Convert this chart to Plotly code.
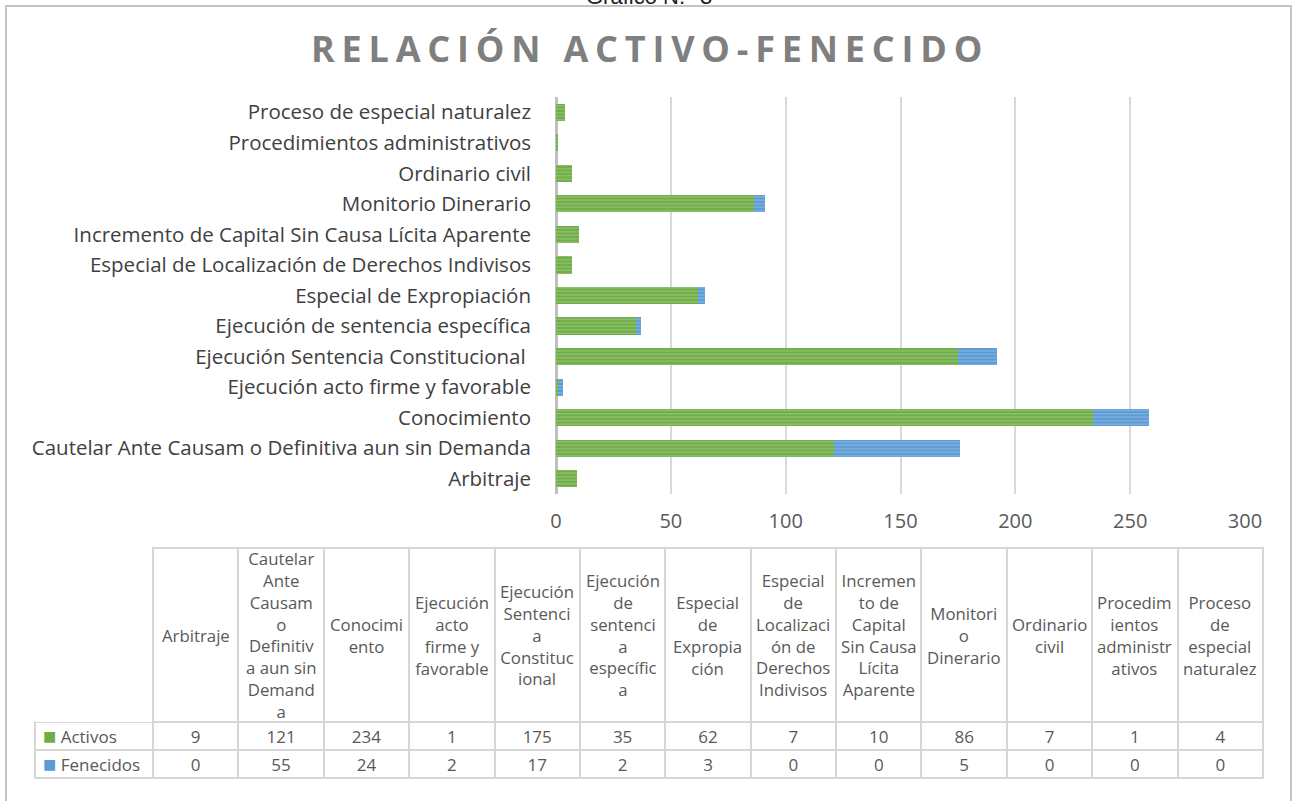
import plotly.graph_objects as go

# ---------------- data ----------------
categories = [
    "Arbitraje",
    "Cautelar Ante Causam o Definitiva aun sin Demanda",
    "Conocimiento",
    "Ejecución acto firme y favorable",
    "Ejecución Sentencia Constitucional ",
    "Ejecución de sentencia específica",
    "Especial de Expropiación",
    "Especial de Localización de Derechos Indivisos",
    "Incremento de Capital Sin Causa Lícita Aparente",
    "Monitorio Dinerario",
    "Ordinario civil",
    "Procedimientos administrativos",
    "Proceso de especial naturalez",
]
activos = [9, 121, 234, 1, 175, 35, 62, 7, 10, 86, 7, 1, 4]
fenecidos = [0, 55, 24, 2, 17, 2, 3, 0, 0, 5, 0, 0, 0]
series_names = ["Activos", "Fenecidos"]

# table header labels as wrapped in the original
header_lines = [
    ["Arbitraje"],
    ["Cautelar", "Ante", "Causam", "o", "Definitiv", "a aun sin", "Demand", "a"],
    ["Conocimi", "ento"],
    ["Ejecución", "acto", "firme y", "favorable"],
    ["Ejecución", "Sentenci", "a", "Constituc", "ional"],
    ["Ejecución", "de", "sentenci", "a", "específic", "a"],
    ["Especial", "de", "Expropia", "ción"],
    ["Especial", "de", "Localizaci", "ón de", "Derechos", "Indivisos"],
    ["Incremen", "to de", "Capital", "Sin Causa", "Lícita", "Aparente"],
    ["Monitori", "o", "Dinerario"],
    ["Ordinario", "civil"],
    ["Procedim", "ientos", "administr", "ativos"],
    ["Proceso", "de", "especial", "naturalez"],
]
x_ticks = [0, 50, 100, 150, 200, 250, 300]

title_text = "RELACIÓN ACTIVO-FENECIDO"
top_caption = "Gráfico N.° 3"

# ---------------- styling ----------------
W, H = 1298, 801
GREEN, GREEN_L = "#70ad47", "#a9d18e"
BLUE, BLUE_L = "#5b9bd5", "#9dc3e6"
FONT = "Open Sans"
TXT = "#595959"


def px_x(p):
    return p / W


def px_y(p):
    return 1 - p / H


fig = go.Figure()

fig.add_trace(go.Bar(
    y=categories, x=activos, name=series_names[0], orientation="h",
    marker=dict(color=GREEN, line=dict(width=0),
                pattern=dict(shape="-", size=3.5, solidity=0.45,
                             fgcolor=GREEN_L, bgcolor=GREEN)),
))
fig.add_trace(go.Bar(
    y=categories, x=fenecidos, name=series_names[1], orientation="h",
    marker=dict(color=BLUE, line=dict(width=0),
                pattern=dict(shape="-", size=3.5, solidity=0.45,
                             fgcolor=BLUE_L, bgcolor=BLUE)),
))

# ---------------- data table ----------------
NB = "\u00a0"
legend_cells = [NB * 4 + s for s in series_names]
cell_values = [legend_cells] + [[a, f] for a, f in zip(activos, fenecidos)]
colw = [118] + [85.4] * len(categories)
LINE = "#d6d6d6"

TBL_L, TBL_R, TBL_T, TBL_B = 35, 1263, 548, 779
HDR_H, ROW_H = 174, 28
tbl_x = [px_x(TBL_L), px_x(TBL_R)]
tbl_y = [px_y(TBL_B), px_y(TBL_T)]

fig.add_trace(go.Table(
    domain=dict(x=tbl_x, y=tbl_y),
    columnwidth=colw,
    header=dict(
        values=[""] * len(colw), height=HDR_H,
        fill=dict(color="white"),
        line=dict(color=["rgba(0,0,0,0)"] + [LINE] * len(categories), width=2),
    ),
    cells=dict(
        values=cell_values, height=ROW_H,
        align=["left"] + ["center"] * len(categories),
        fill=dict(color="white"),
        line=dict(color=LINE, width=2),
        font=dict(family=FONT, size=17, color=TXT),
    ),
))

# header labels, centred in each header cell
annotations = []
scale = (TBL_R - TBL_L) / sum(colw)
left = TBL_L + colw[0] * scale
for lines, w in zip(header_lines, colw[1:]):
    cx = left + w * scale / 2
    annotations.append(dict(
        text="<br>".join(lines), xref="paper", yref="paper",
        x=px_x(cx), y=px_y(TBL_T + HDR_H / 2), xanchor="center", yanchor="middle",
        align="center", showarrow=False,
        font=dict(family=FONT, size=16.8, color=TXT),
    ))
    left += w * scale

# legend keys in the first table column
for i, col in enumerate([GREEN, BLUE]):
    annotations.append(dict(
        text="■", xref="paper", yref="paper",
        x=px_x(TBL_L + 14), y=px_y(TBL_T + HDR_H + ROW_H * (i + 0.5)),
        xanchor="center", yanchor="middle", showarrow=False,
        font=dict(family="DejaVu Sans", size=14, color=col),
    ))

annotations += [
    dict(text=f'<b><span style="letter-spacing:6.8px">{title_text}</span></b>',
         xref="paper", yref="paper", x=px_x(650), y=px_y(48),
         xanchor="center", yanchor="middle", showarrow=False,
         font=dict(family=FONT, size=36, color="#7f7f7f")),
    dict(text=top_caption, xref="paper", yref="paper",
         x=px_x(649), y=px_y(11), xanchor="center", yanchor="bottom",
         showarrow=False, font=dict(family="Liberation Sans", size=22, color="#222222")),
]

fig.update_layout(
    width=W, height=H, autosize=False,
    margin=dict(l=0, r=0, t=0, b=0, pad=0, autoexpand=False),
    paper_bgcolor="white", plot_bgcolor="white",
    barmode="stack", bargap=0.44,
    showlegend=False,
    font=dict(family=FONT, color=TXT),
    xaxis=dict(
        domain=[px_x(556), px_x(1245)], range=[0, 300], automargin=False,
        tickvals=x_ticks, showgrid=True, gridcolor="#d9d9d9", gridwidth=2,
        zeroline=True, zerolinecolor="#bfbfbf", zerolinewidth=3,
        showline=False, ticks="", ticklabelstandoff=13,
        tickfont=dict(family=FONT, size=20, color=TXT),
        fixedrange=True,
    ),
    yaxis=dict(
        domain=[px_y(494), px_y(97)], range=[-0.5, 12.5], automargin=False,
        showgrid=False, zeroline=False, showline=False, ticks="",
        ticklabelstandoff=24,
        tickfont=dict(family=FONT, size=20.5, color="#404040"),
        fixedrange=True,
    ),
    annotations=annotations,
    shapes=[
        dict(type="rect", xref="paper", yref="paper",
             x0=px_x(6), x1=px_x(1291), y0=-0.05, y1=px_y(6),
             line=dict(color="#c4c4c4", width=2), fillcolor="rgba(0,0,0,0)", layer="below"),
    ],
)

post = (
    "document.documentElement.style.overflow='hidden';"
    "document.body.style.margin='0px';"
    "document.body.style.overflow='hidden';"
)
fig.write_html("out.html", post_script=post, config={"displayModeBar": False})
